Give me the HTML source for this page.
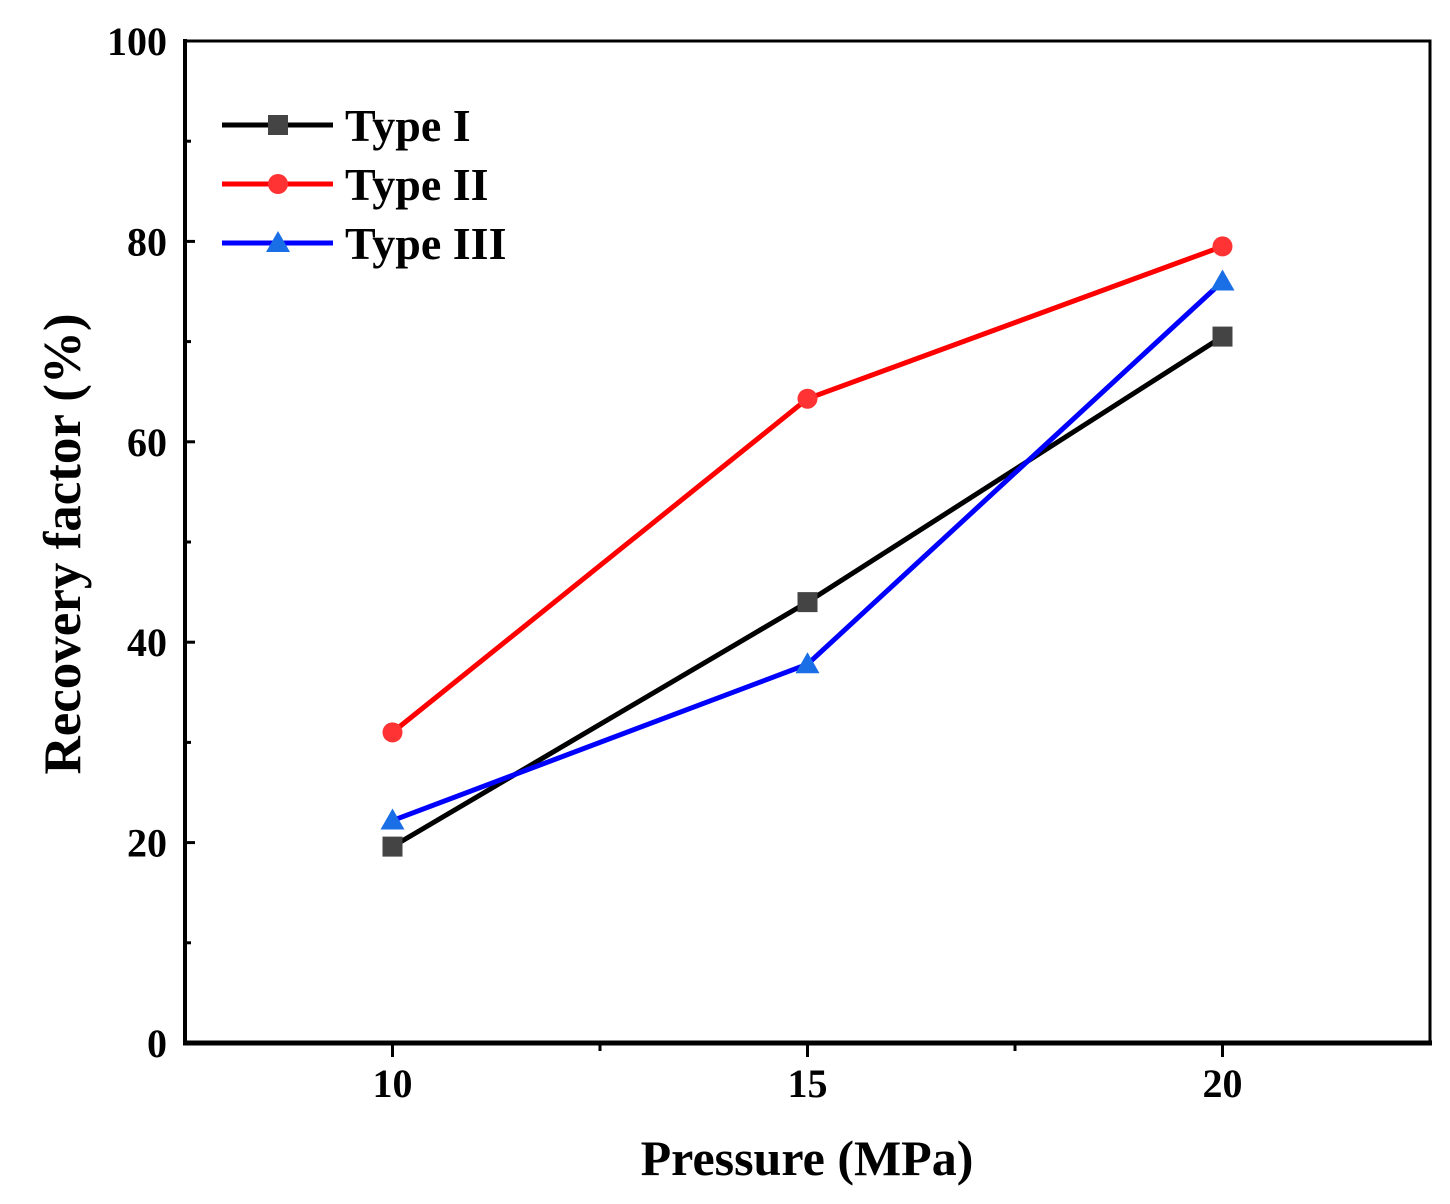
<!DOCTYPE html>
<html><head><meta charset="utf-8"><style>
html,body{margin:0;padding:0;background:#fff;}
svg text{font-family:"Liberation Serif",serif;font-weight:bold;fill:#000;}
</style></head><body>
<svg id="chart" width="1450" height="1199" viewBox="0 0 1450 1199" xmlns="http://www.w3.org/2000/svg">
<g id="grid"></g>
<g id="series"></g>
<g id="legend"></g>
<text x="807" y="1175" text-anchor="middle" font-size="50">Pressure (MPa)</text>
<text transform="translate(80,544) rotate(-90)" text-anchor="middle" font-size="53">Recovery factor (%)</text>
</svg>
<script>
const categories = [10, 15, 20];
const seriesNames = ["Type I", "Type II", "Type III"];
const typeI = [19.6, 44.0, 70.5];
const typeII = [31.0, 64.3, 79.5];
const typeIII = [22.2, 37.8, 76.0];
const yTicks = [0, 20, 40, 60, 80, 100];
const xTicks = [10, 15, 20];

const NS = "http://www.w3.org/2000/svg";
const L = 185, R = 1430, T = 41, B = 1043;
const xMin = 7.5, xMax = 22.5, yMin = 0, yMax = 100;
const xs = v => L + (v - xMin) / (xMax - xMin) * (R - L);
const ys = v => B - (v - yMin) / (yMax - yMin) * (B - T);
function mk(tag, attrs, parent) {
  const e = document.createElementNS(NS, tag);
  for (const k in attrs) e.setAttribute(k, attrs[k]);
  parent.appendChild(e);
  return e;
}
const grid = document.getElementById("grid");
const frame = mk("rect", {x: L, y: T, width: R - L, height: B - T, fill: "none", stroke: "#000", "stroke-width": 3}, grid);


const bottom = mk("line", {x1: L - 2, y1: B, x2: R + 2, y2: B, stroke: "#000", "stroke-width": 5}, grid);


const left = mk("line", {x1: L, y1: T - 2, x2: L, y2: B + 2, stroke: "#000", "stroke-width": 4}, grid);


yTicks.forEach((v, i) => {
  const y = ys(v);
  const t = mk("line", {x1: L, y1: y, x2: L + 10, y2: y, stroke: "#000", "stroke-width": 3}, grid);
  
  
  const lb = mk("text", {x: L - 18, y: y + 14, "text-anchor": "end", "font-size": 40}, grid);
  lb.textContent = v;
  
  
  if (i < yTicks.length - 1) {
    const m = ys(v + 10);
    const mt = mk("line", {x1: L, y1: m, x2: L + 6, y2: m, stroke: "#000", "stroke-width": 3}, grid);
    
    
  }
});
xTicks.forEach(v => {
  const x = xs(v);
  const t = mk("line", {x1: x, y1: B, x2: x, y2: B + 14, stroke: "#000", "stroke-width": 3}, grid);
  
  
  const lb = mk("text", {x: x, y: B + 54, "text-anchor": "middle", "font-size": 40}, grid);
  lb.textContent = v;
  
  
});
[12.5, 17.5].forEach(v => {
  const t = mk("line", {x1: xs(v), y1: B, x2: xs(v), y2: B + 8, stroke: "#000", "stroke-width": 3}, grid);
  
  
});

const colors = ["#000000", "#ff0000", "#0000ff"];
const mcolors = ["#444444", "#ff3333", "#1a6fe6"];
const shapes = ["square", "circle", "triangle"];
function marker(shape, x, y, color, parent, name) {
  let e;
  if (shape === "square") e = mk("rect", {x: x - 10, y: y - 10, width: 20, height: 20, fill: color}, parent);
  else if (shape === "circle") e = mk("circle", {cx: x, cy: y, r: 10, fill: color}, parent);
  else e = mk("polygon", {points: `${x},${y - 12} ${x + 12},${y + 9} ${x - 12},${y + 9}`, fill: color}, parent);
  
  
}
const sg = document.getElementById("series");
[typeI, typeII, typeIII].forEach((vals, si) => {
  const pts = vals.map((v, i) => xs(categories[i]) + "," + ys(v)).join(" ");
  const pl = mk("polyline", {points: pts, fill: "none", stroke: colors[si], "stroke-width": 5}, sg);
  
  
  vals.forEach((v, i) => marker(shapes[si], xs(categories[i]), ys(v), mcolors[si], sg, 'point-type-' + (si + 1)));
});
const lg = document.getElementById("legend");
seriesNames.forEach((n, i) => {
  const y = 125 + i * 59;
  const ln = mk("line", {x1: 222, y1: y, x2: 333, y2: y, stroke: colors[i], "stroke-width": 5}, lg);
  
  
  marker(shapes[i], 278, y, mcolors[i], lg, 'legend-marker');
  const t = mk("text", {x: 345, y: y + 16, "font-size": 46}, lg);
  t.textContent = n;
  
  
});
</script>
</body></html>
